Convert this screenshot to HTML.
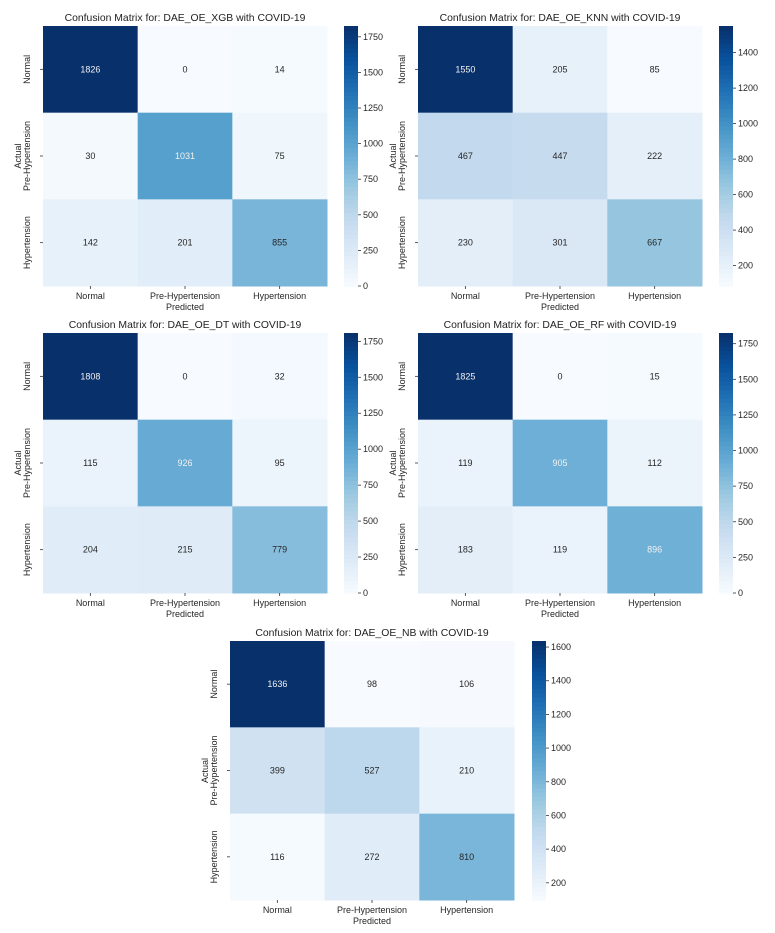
<!DOCTYPE html>
<html><head><meta charset="utf-8">
<style>
html,body{margin:0;padding:0;background:#fff;}
svg{display:block;font-family:"Liberation Sans","DejaVu Sans",sans-serif;}
</style></head>
<body>
<svg id="fig" width="775" height="933" viewBox="0 0 775 933" xmlns="http://www.w3.org/2000/svg"></svg>
<script>
const classes = ["Normal","Pre-Hypertension","Hypertension"];
const titles = ["DAE_OE_XGB","DAE_OE_KNN","DAE_OE_DT","DAE_OE_RF","DAE_OE_NB"];
const xgbValues = [[1826,0,14],[30,1031,75],[142,201,855]];
const knnValues = [[1550,205,85],[467,447,222],[230,301,667]];
const dtValues = [[1808,0,32],[115,926,95],[204,215,779]];
const rfValues = [[1825,0,15],[119,905,112],[183,119,896]];
const nbValues = [[1636,98,106],[399,527,210],[116,272,810]];
const xgbTicks = [0,250,500,750,1000,1250,1500,1750];
const knnTicks = [200,400,600,800,1000,1200,1400];
const dtTicks = [0,250,500,750,1000,1250,1500,1750];
const rfTicks = [0,250,500,750,1000,1250,1500,1750];
const nbTicks = [200,400,600,800,1000,1200,1400,1600];

const layouts = [
  {x0:43,x1:327,y0:26,y1:286,cb:344,v:xgbValues,t:xgbTicks},
  {x0:418,x1:702,y0:26,y1:286,cb:719,v:knnValues,t:knnTicks},
  {x0:43,x1:327,y0:333,y1:593,cb:344,v:dtValues,t:dtTicks},
  {x0:418,x1:702,y0:333,y1:593,cb:719,v:rfValues,t:rfTicks},
  {x0:230,x1:514,y0:641,y1:900,cb:532,v:nbValues,t:nbTicks}
];
const stops=["#f7fbff","#deebf7","#c6dbef","#9ecae1","#6baed6","#4292c6","#2171b5","#08519c","#08306b"];
function hex(h){return [1,3,5].map(i=>parseInt(h.substr(i,2),16));}
function blues(f){f=Math.max(0,Math.min(1,f));const p=f*8,i=Math.min(7,Math.floor(p)),r=p-i;
 const a=hex(stops[i]),b=hex(stops[i+1]);return a.map((c,k)=>Math.round(c+(b[k]-c)*r));}
function lum(c){const l=c.map(v=>{v/=255;return v<=0.03928?v/12.92:Math.pow((v+0.055)/1.055,2.4);});return 0.2126*l[0]+0.7152*l[1]+0.0722*l[2];}
const NS="http://www.w3.org/2000/svg";
const svg=document.getElementById('fig');
function el(tag,attrs,parent,text){const e=document.createElementNS(NS,tag);for(const k in attrs)e.setAttribute(k,attrs[k]);if(text!==undefined)e.textContent=text;(parent||svg).appendChild(e);return e;}

layouts.forEach((L,pi)=>{
  const g=el('g',{});
  
  
  const flat=L.v.flat(),mn=Math.min(...flat),mx=Math.max(...flat);
  const cw=(L.x1-L.x0)/3,ch=(L.y1-L.y0)/3;
  const xs=j=>L.x0+j*cw, ys=i=>L.y0+i*ch;
  const t=el('text',{x:(L.x0+L.x1)/2,y:L.y0-5,'text-anchor':'middle','font-size':10.4,fill:'#222'},g,'Confusion Matrix for: '+titles[pi]+' with COVID-19');
  
  
  L.v.forEach((row,i)=>row.forEach((val,j)=>{
    const c=blues((val-mn)/(mx-mn));
    const r=el('rect',{x:xs(j),y:ys(i),width:cw+0.5,height:ch+0.5,fill:'rgb('+c.join(',')+')'},g);
    
    
    const tx=el('text',{x:xs(j)+cw/2,y:ys(i)+ch/2+3,'text-anchor':'middle','font-size':9,fill:lum(c)<0.408?'#f0f0f0':'#262626'},g,String(val));
    
    
  }));
  classes.forEach((cl,k)=>{
    const cx=xs(k)+cw/2;
    el('line',{x1:cx,x2:cx,y1:L.y1,y2:L.y1+3,stroke:'#333','stroke-width':0.8},g);
    const xl=el('text',{x:cx,y:L.y1+13,'text-anchor':'middle','font-size':9,fill:'#262626'},g,cl);
    
    
    const cy=ys(k)+ch/2;
    el('line',{x1:L.x0-3,x2:L.x0,y1:cy,y2:cy,stroke:'#333','stroke-width':0.8},g);
    const yl=el('text',{x:L.x0-13,y:cy,'text-anchor':'middle','font-size':9,fill:'#262626',transform:'rotate(-90 '+(L.x0-13)+' '+cy+')'},g,cl);
    
    
  });
  const xt=el('text',{x:(L.x0+L.x1)/2,y:L.y1+24,'text-anchor':'middle','font-size':9,fill:'#262626'},g,'Predicted');
  
  
  const ymid=(L.y0+L.y1)/2;
  const yt=el('text',{x:L.x0-22,y:ymid,'text-anchor':'middle','font-size':9,fill:'#262626',transform:'rotate(-90 '+(L.x0-22)+' '+ymid+')'},g,'Actual');
  
  
  const cbw=14,n=60;
  const cbg=el('g',{},g);
  
  
  const H=L.y1-L.y0;
  for(let s=0;s<n;s++){
    const c=blues((s+0.5)/n);
    el('rect',{x:L.cb,y:L.y1-(s+1)*H/n,width:cbw,height:H/n+0.6,fill:'rgb('+c.join(',')+')'},cbg);
  }
  L.t.forEach(tv=>{
    const y=L.y1-(tv-mn)/(mx-mn)*H;
    if(y<L.y0-0.5||y>L.y1+0.5)return;
    el('line',{x1:L.cb+cbw,x2:L.cb+cbw+3,y1:y,y2:y,stroke:'#333','stroke-width':0.8},cbg);
    const tl=el('text',{x:L.cb+cbw+5,y:y+3,'font-size':9,fill:'#262626'},cbg,String(tv));
    
    
  });
});
</script>
</body></html>
